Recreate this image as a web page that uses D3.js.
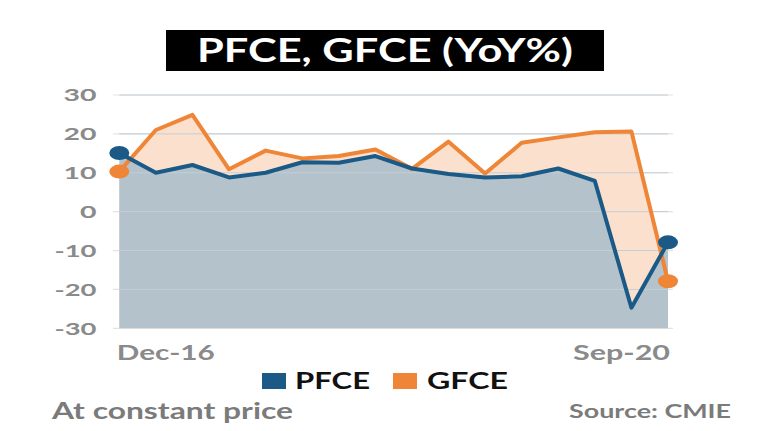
<!DOCTYPE html>
<html>
<head>
<meta charset="utf-8">
<script src="https://cdn.jsdelivr.net/npm/d3@7"></script>
<style>
  html, body { margin: 0; padding: 0; background: #fff; }
  svg { display: block; font-family: Lato, "Open Sans", sans-serif; }
</style>
</head>
<body>
<svg id="chart" width="770" height="431"></svg>
<script>
const quarters = ["Dec-16","Mar-17","Jun-17","Sep-17","Dec-17","Mar-18","Jun-18","Sep-18",
                  "Dec-18","Mar-19","Jun-19","Sep-19","Dec-19","Mar-20","Jun-20","Sep-20"];
const pfce = [15.1, 10.0, 12.0, 8.8, 10.0, 12.7, 12.6, 14.3, 11.1, 9.7, 8.8, 9.1, 11.1, 7.9, -24.7, -7.9];
const gfce = [10.3, 21.0, 24.9, 10.9, 15.7, 13.7, 14.3, 16.0, 11.0, 18.0, 9.8, 17.7, 19.1, 20.4, 20.6, -17.9];
const yTicks = [30, 20, 10, 0, -10, -20, -30];
const xLabels = ["Dec-16", "Sep-20"];
const seriesNames = ["PFCE", "GFCE"];

const colors = { PFCE: "#1b5a86", GFCE: "#ef8637" };
const fills = { PFCE: "#b4c2cb", GFCE: "#fbe1cd" };

const svg = d3.select("#chart");
const x = d3.scalePoint().domain(quarters).range([119.3, 668]);
const y = d3.scaleLinear().domain([-30, 30]).range([328.3, 95]);

// Title
svg.append("rect").attr("x", 166).attr("y", 30).attr("width", 438).attr("height", 41).attr("fill", "#000");
svg.append("text").attr("x", 197).attr("y", 61.5)
  .attr("font-size", 32).attr("font-weight", 700).attr("fill", "#fff")
  .attr("textLength", 376).attr("lengthAdjust", "spacingAndGlyphs")
  .text("PFCE, GFCE (YoY%)");

// gridlines (under areas)
const grid = svg.append("g");
grid.selectAll("line").data(yTicks).join("line")
  .attr("x1", 113).attr("x2", 673)
  .attr("y1", d => y(d)).attr("y2", d => y(d))
  .attr("stroke", "#e3e3e3").attr("stroke-width", 1.2);

// areas
const area = vals => d3.area()
  .x((d, i) => x(quarters[i])).y0(y(-30)).y1(d => y(d))(vals);
svg.append("path").attr("d", area(gfce)).attr("fill", fills.GFCE);
svg.append("path").attr("d", area(pfce)).attr("fill", fills.PFCE);

// gridlines over areas (faint)
svg.append("g").selectAll("line").data(yTicks.filter(d => d > -30)).join("line")
  .attr("x1", x(quarters[0])).attr("x2", x(quarters[quarters.length - 1]))
  .attr("y1", d => y(d)).attr("y2", d => y(d))
  .attr("stroke", "#c3ced5").attr("stroke-width", 1);

// lines
const line = vals => d3.line().x((d, i) => x(quarters[i])).y(d => y(d))(vals);
svg.append("path").attr("d", line(gfce)).attr("fill", "none")
  .attr("stroke", colors.GFCE).attr("stroke-width", 4).attr("stroke-linejoin", "round");
svg.append("path").attr("d", line(pfce)).attr("fill", "none")
  .attr("stroke", colors.PFCE).attr("stroke-width", 4).attr("stroke-linejoin", "round");

// end dots
const ends = [0, quarters.length - 1];
[["GFCE", gfce], ["PFCE", pfce]].forEach(([name, vals]) => {
  svg.append("g").selectAll("ellipse").data(ends).join("ellipse")
    .attr("cx", i => x(quarters[i])).attr("cy", i => y(vals[i]))
    .attr("rx", 10).attr("ry", 7)
    .attr("fill", colors[name]);
});

// y tick labels
svg.append("g").selectAll("text").data(yTicks).join("text")
  .attr("x", d => 96.5 - (String(Math.abs(d)).length * 16.5 + (d < 0 ? 9 : 0)))
  .attr("y", d => y(d) + 6.4)
  .attr("font-size", 17.5).attr("font-weight", 700).attr("fill", "#8a8a8a")
  .attr("textLength", d => String(Math.abs(d)).length * 16.5 + (d < 0 ? 9 : 0))
  .attr("lengthAdjust", "spacingAndGlyphs")
  .text(d => String(d));

// x labels
svg.append("text").attr("x", x(xLabels[0]) - 2.5).attr("y", 359.5)
  .attr("font-size", 21.5).attr("font-weight", 700).attr("fill", "#8a8a8a")
  .attr("textLength", 98).attr("lengthAdjust", "spacingAndGlyphs").text(xLabels[0]);
svg.append("text").attr("x", x(xLabels[1]) + 2 - 97).attr("y", 359.5)
  .attr("font-size", 21.5).attr("font-weight", 700).attr("fill", "#8a8a8a")
  .attr("textLength", 97).attr("lengthAdjust", "spacingAndGlyphs").text(xLabels[1]);

// legend
const legend = [
  { name: seriesNames[0], sx: 262, tx: 295, tw: 75 },
  { name: seriesNames[1], sx: 393, tx: 427, tw: 81 }
];
legend.forEach(l => {
  svg.append("rect").attr("x", l.sx).attr("y", 373).attr("width", 24).attr("height", 16)
    .attr("fill", colors[l.name]);
  svg.append("text").attr("x", l.tx).attr("y", 389)
    .attr("font-size", 22).attr("font-weight", 700).attr("fill", "#111")
    .attr("textLength", l.tw).attr("lengthAdjust", "spacingAndGlyphs").text(l.name);
});

// footer
svg.append("text").attr("x", 52).attr("y", 418.5)
  .attr("font-size", 22).attr("font-weight", 700).attr("fill", "#7b7b7b")
  .attr("textLength", 241).attr("lengthAdjust", "spacingAndGlyphs").text("At constant price");
svg.append("text").attr("x", 569).attr("y", 417.5)
  .attr("font-size", 18.5).attr("font-weight", 700).attr("fill", "#7b7b7b")
  .attr("textLength", 162).attr("lengthAdjust", "spacingAndGlyphs").text("Source: CMIE");
</script>
</body>
</html>
